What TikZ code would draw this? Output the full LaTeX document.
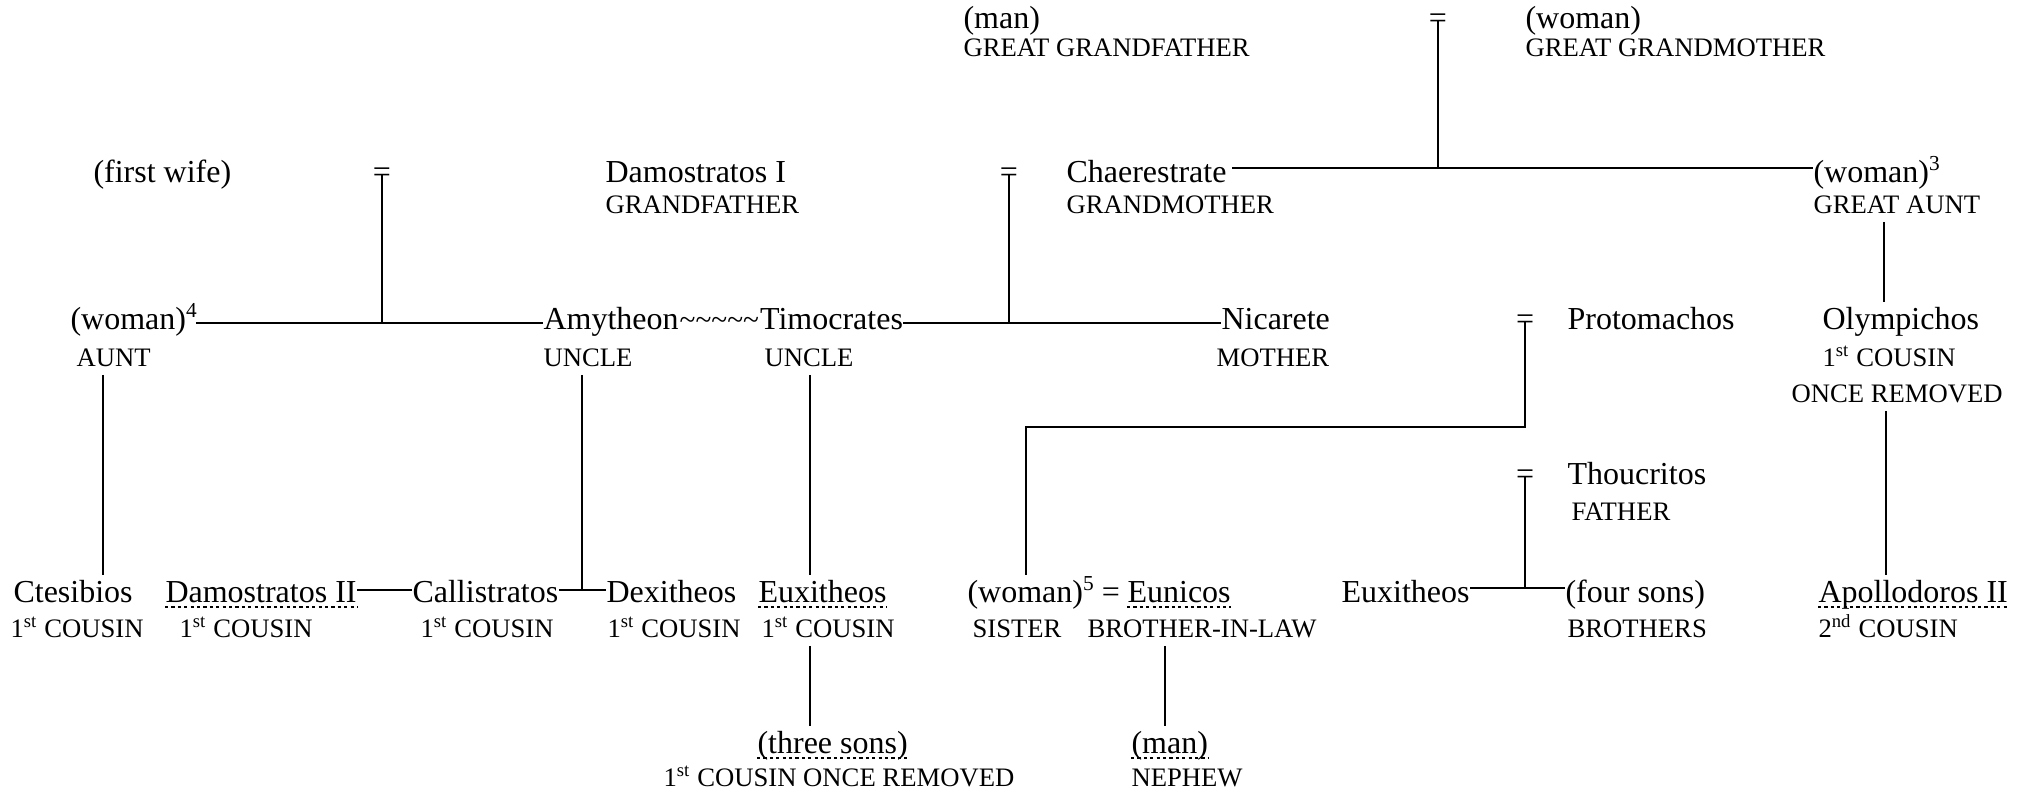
\documentclass[tikz,border=0pt]{standalone}
\usepackage{fontspec}
\setmainfont{Liberation Serif}
\usetikzlibrary{positioning}

\begin{document}
\begin{tikzpicture}[
  x=0.375pt, y=-0.375pt,
  nm/.style={font=\fontsize{12}{14}\selectfont, inner xsep=0pt, inner ysep=1.5pt,
    text height=8.3pt, text depth=2.6pt, anchor=base west},
  lb/.style={font=\fontsize{10}{12}\selectfont, inner xsep=0pt, inner ysep=3pt, anchor=base west},
  eq/.style={font=\fontsize{12}{14}\selectfont, inner sep=0pt, anchor=base},
  link/.style={line width=0.75pt},
  udot/.style={line width=0.6pt, dash pattern=on 1.2pt off 1.2pt}
]
\useasboundingbox (0,0) rectangle (2029,794);

% great grandparents
\node[nm] (ggf) at (963,28) {(man)};
\node[lb] (ggfl) at (963,56) {GREAT GRANDFATHER};
\node[eq] (eqgg) at (1438,28) {=};
\node[nm] (ggm) at (1525,28) {(woman)};
\node[lb] (ggml) at (1525,56) {GREAT GRANDMOTHER};

% grandparents
\node[nm] (fwife) at (93,182) {(first wife)};
\node[eq] (eqa) at (382,182) {=};
\node[nm] (dam1) at (605,182) {Damostratos I};
\node[lb] (dam1l) at (605,213) {GRANDFATHER};
\node[eq] (eqb) at (1009,182) {=};
\node[nm] (chae) at (1066,182) {Chaerestrate};
\node[lb] (chael) at (1066,213) {GRANDMOTHER};
\node[nm] (gaunt) at (1813,182) {(woman)\textsuperscript{3}};
\node[lb] (gauntl) at (1813,213) {GREAT AUNT};

% parents
\node[nm] (aunt) at (70,329) {(woman)\textsuperscript{4}};
\node[lb] (auntl) at (76,366) {AUNT};
\node[nm] (amy) at (543,329) {Amytheon};
\node[nm, font=\fontsize{11}{14}\selectfont, right=0pt of amy] (tld) {\textasciitilde\textasciitilde\textasciitilde\textasciitilde\textasciitilde};
\node[nm, right=0pt of tld] (timo) {Timocrates};
\node[lb] (amyl) at (543,366) {UNCLE};
\node[lb] (timol) at (764,366) {UNCLE};
\node[nm] (nica) at (1221,329) {Nicarete};
\node[lb] (nical) at (1216,366) {MOTHER};
\node[eq] (eqc) at (1525,329) {=};
\node[nm] (proto) at (1567,329) {Protomachos};
\node[nm] (olym) at (1822,329) {Olympichos};
\node[lb] (olyml) at (1822,366) {1\textsuperscript{st} COUSIN};
\node[lb] (olyml2) at (1791,402) {ONCE REMOVED};

\node[eq] (eqd) at (1525,484) {=};
\node[nm] (thou) at (1567,484) {Thoucritos};
\node[lb] (thoul) at (1571,520) {FATHER};

% cousins and siblings
\node[nm] (ctes) at (13,602) {Ctesibios};
\node[lb] (ctesl) at (10,637) {1\textsuperscript{st} COUSIN};
\node[nm] (dam2) at (165,602) {Damostratos II};
\node[lb] (dam2l) at (179,637) {1\textsuperscript{st} COUSIN};
\node[nm] (call) at (412,602) {Callistratos};
\node[lb] (calll) at (420,637) {1\textsuperscript{st} COUSIN};
\node[nm] (dexi) at (606,602) {Dexitheos};
\node[lb] (dexil) at (607,637) {1\textsuperscript{st} COUSIN};
\node[nm] (euxa) at (758,602) {Euxitheos};
\node[lb] (euxal) at (761,637) {1\textsuperscript{st} COUSIN};
\node[nm] (sis) at (967,602) {(woman)\textsuperscript{5}};
\node[eq] (eqe) at (1111,602) {=};
\node[nm] (euni) at (1127,602) {Eunicos};
\node[lb] (sisl) at (972,637) {SISTER};
\node[lb] (eunil) at (1087,637) {BROTHER-IN-LAW};
\node[nm] (euxb) at (1341,602) {Euxitheos};
\node[nm] (sons4) at (1565,602) {(four sons)};
\node[lb] (sons4l) at (1567,637) {BROTHERS};
\node[nm] (apol) at (1818,602) {Apollodoros II};
\node[lb] (apoll) at (1818,637) {2\textsuperscript{nd} COUSIN};

% next generation
\node[nm] (sons3) at (757,753) {(three sons)};
\node[lb] (sons3l) at (663,786) {1\textsuperscript{st} COUSIN ONCE REMOVED};
\node[nm] (neph) at (1131,753) {(man)};
\node[lb] (nephl) at (1131,786) {NEPHEW};

% junctions
\coordinate (jgg) at (1438,168);
\coordinate (jdam) at (382,323);
\coordinate (jchae) at (1009,323);
\coordinate (jcall) at (582,590);
\coordinate (jthou) at (1525,588);
\coordinate (jsis) at (1026,427);
\coordinate (xaunt) at (103,0);
\coordinate (xtimo) at (810,0);
\coordinate (xeuni) at (1165,0);
\coordinate (xgaunt) at (1884,0);
\coordinate (xolym) at (1886,0);

% marriages
\draw[link] (eqgg.center) -- (jgg);
\draw[link, shorten <=2pt] (chae.east |- jgg) -- (gaunt.west |- jgg);
\draw[link] (eqa.center) -- (jdam);
\draw[link, shorten <=-1pt] (aunt.east |- jdam) -- (amy.west |- jdam);
\draw[link] (eqb.center) -- (jchae);
\draw[link] (timo.east |- jchae) -- (nica.west |- jchae);
\draw[link] (eqc.center) |- (jsis) -- (jsis |- sis.north);
\draw[link] (eqd.center) -- (jthou);
\draw[link] (euxb.east |- jthou) -- (sons4.west |- jthou);

% descent
\draw[link] (auntl.south -| xaunt) -- (ctes.north -| xaunt);
\draw[link] (amyl.south -| jcall) -- (jcall);
\draw[link] (dam2.east |- jcall) -- (call.west |- jcall);
\draw[link] (call.east |- jcall) -- (dexi.west |- jcall);
\draw[link] (timol.south -| xtimo) -- (euxa.north -| xtimo);
\draw[link] (euxal.south -| xtimo) -- (sons3.north -| xtimo);
\draw[link] (eunil.south -| xeuni) -- (neph.north -| xeuni);
\draw[link] (gauntl.south -| xgaunt) -- (olym.north -| xgaunt);
\draw[link] (olyml2.south -| xolym) -- (apol.north -| xolym);

% dotted underlines
\foreach \u in {dam2,euxa,euni,sons3,neph,apol}
  \draw[udot] ([yshift=-1.9pt]\u.base west) -- ([yshift=-1.9pt]\u.base east);

\end{tikzpicture}
\end{document}
